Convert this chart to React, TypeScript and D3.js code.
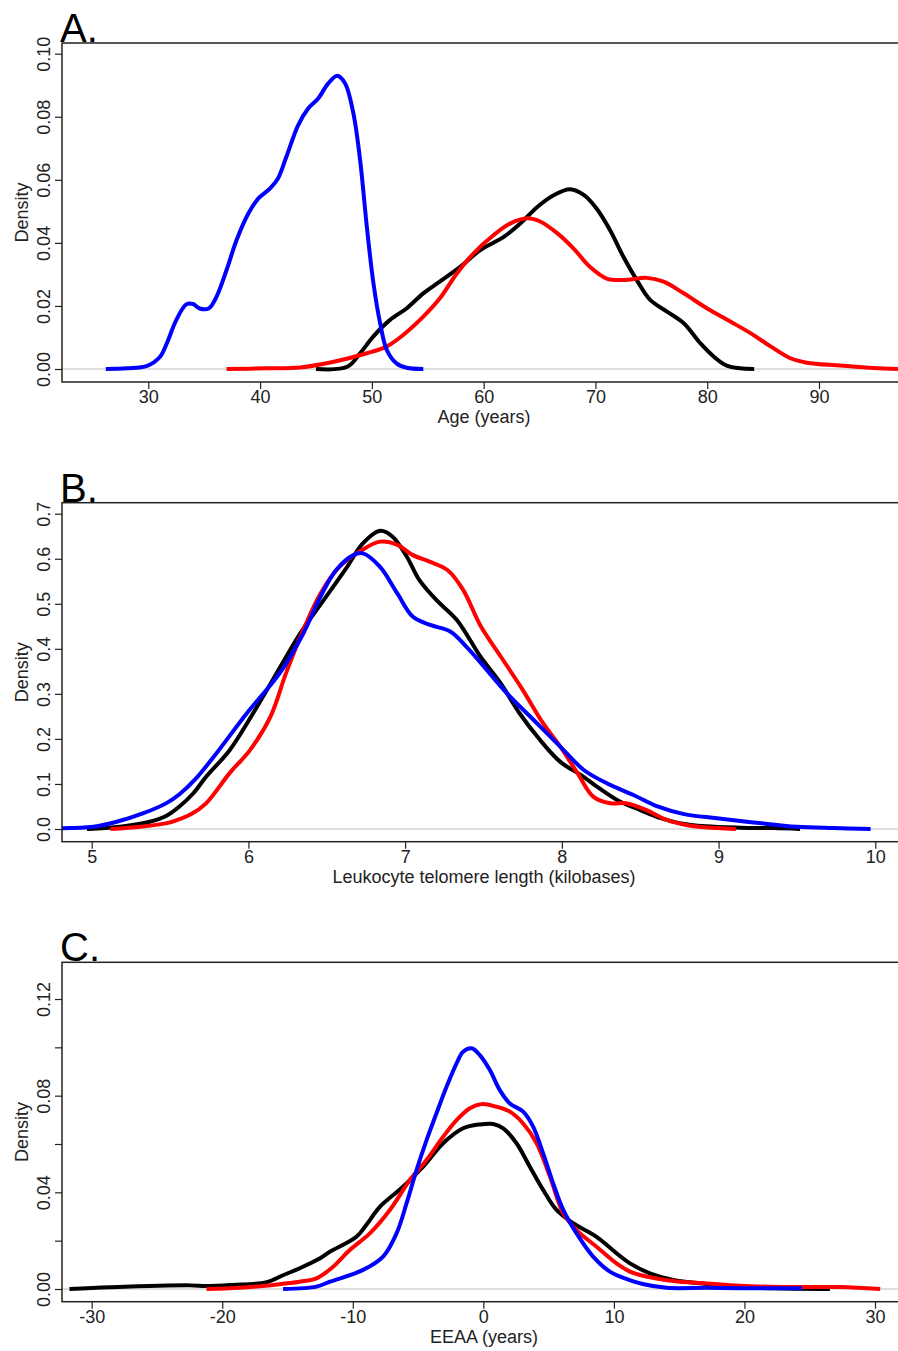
import { useEffect, useRef } from "react";
import * as d3 from "d3";

type Pt = [number, number];

// Panel A: age (years)
const ageTicks = [30, 40, 50, 60, 70, 80, 90];
const ageDensityTicks = [0, 0.02, 0.04, 0.06, 0.08, 0.1];
const ageBlack: Pt[] = [
  [45.0, 0], [47.8, 0.0007], [48.95, 0.005], [50.1, 0.0102], [51.6, 0.0155], [53.1, 0.0192],
  [54.6, 0.024], [56.1, 0.0278], [57.9, 0.0324], [59.7, 0.0377], [61.8, 0.0419], [63.3, 0.0462],
  [64.8, 0.0514], [66.3, 0.0552], [67.75, 0.057], [68.95, 0.0552], [70.1, 0.0509], [71.3, 0.0441],
  [72.5, 0.0356], [73.7, 0.0282], [74.9, 0.0219], [76.4, 0.0182], [77.9, 0.0145], [79.4, 0.0081],
  [80.6, 0.0039], [81.8, 0.001], [84.2, 0],
];
const ageRed: Pt[] = [
  [37.0, 0], [40.6, 0.0002], [43.6, 0.0005], [46.6, 0.0023], [49.55, 0.005], [51.3, 0.0071],
  [52.8, 0.0108], [54.6, 0.0166], [56.1, 0.0225], [57.6, 0.0303], [59.1, 0.0367], [60.9, 0.0425],
  [62.4, 0.0462], [63.9, 0.0478], [65.1, 0.0467], [66.6, 0.043], [68.05, 0.0382], [69.5, 0.0324],
  [71.0, 0.0287], [72.5, 0.0282], [74.6, 0.0289], [76.1, 0.0277], [77.9, 0.024], [80.0, 0.0192],
  [82.1, 0.015], [83.9, 0.0113], [85.7, 0.0071], [87.45, 0.0034], [88.9, 0.002], [91.9, 0.0011],
  [94.9, 0.0003], [97.1, 0],
];
const ageBlue: Pt[] = [
  [26.2, 0], [28.1, 0.0002], [29.9, 0.001], [31.05, 0.0039], [31.65, 0.0081], [32.5, 0.0155],
  [33.4, 0.0205], [34.0, 0.0206], [34.6, 0.0192], [35.4, 0.0192], [36.1, 0.0229], [37.0, 0.0314],
  [37.9, 0.0409], [38.95, 0.0493], [39.85, 0.0541], [40.9, 0.0573], [41.6, 0.0604], [42.4, 0.0678],
  [43.4, 0.0773], [44.3, 0.0826], [45.2, 0.0858], [46.1, 0.0906], [46.9, 0.093], [47.6, 0.0906],
  [48.35, 0.081], [48.95, 0.0662], [49.55, 0.0451], [50.14, 0.0272], [50.74, 0.0145], [51.34, 0.006],
  [52.2, 0.0018], [53.1, 0.0004], [54.6, 0],
];

// Panel B: leukocyte telomere length (kilobases)
const ltlTicks = [5, 6, 7, 8, 9, 10];
const ltlDensityTicks = [0, 0.1, 0.2, 0.3, 0.4, 0.5, 0.6, 0.7];
const ltlBlack: Pt[] = [
  [4.97, 0], [5.18, 0.005], [5.37, 0.016], [5.48, 0.03], [5.56, 0.05], [5.65, 0.08],
  [5.73, 0.116], [5.88, 0.175], [6.03, 0.257], [6.18, 0.346], [6.33, 0.434], [6.48, 0.508],
  [6.63, 0.582], [6.73, 0.634], [6.84, 0.662], [6.92, 0.649], [7.01, 0.605], [7.09, 0.553],
  [7.2, 0.508], [7.33, 0.464], [7.48, 0.383], [7.61, 0.323], [7.73, 0.257], [7.86, 0.198],
  [7.99, 0.149], [8.12, 0.12], [8.24, 0.09], [8.37, 0.061], [8.5, 0.042], [8.63, 0.024],
  [8.75, 0.013], [8.92, 0.006], [9.14, 0.003], [9.35, 0.002], [9.52, 0],
];
const ltlRed: Pt[] = [
  [5.12, 0], [5.31, 0.005], [5.48, 0.013], [5.56, 0.022], [5.63, 0.032], [5.73, 0.057],
  [5.88, 0.124], [6.01, 0.175], [6.14, 0.249], [6.24, 0.346], [6.35, 0.442], [6.46, 0.523],
  [6.58, 0.582], [6.71, 0.616], [6.84, 0.638], [6.95, 0.631], [7.05, 0.608], [7.16, 0.593],
  [7.27, 0.575], [7.37, 0.531], [7.48, 0.452], [7.61, 0.383], [7.75, 0.309], [7.88, 0.235],
  [7.99, 0.183], [8.1, 0.124], [8.2, 0.072], [8.31, 0.057], [8.41, 0.057], [8.54, 0.042],
  [8.67, 0.02], [8.82, 0.007], [8.99, 0.002], [9.11, 0],
];
const ltlBlue: Pt[] = [
  [4.81, 0.0015], [5.01, 0.005], [5.16, 0.016], [5.33, 0.035], [5.48, 0.058], [5.56, 0.077],
  [5.66, 0.11], [5.78, 0.161], [5.99, 0.257], [6.2, 0.346], [6.35, 0.434], [6.46, 0.516],
  [6.56, 0.575], [6.67, 0.608], [6.73, 0.612], [6.84, 0.582], [6.95, 0.523], [7.05, 0.471],
  [7.16, 0.453], [7.29, 0.438], [7.39, 0.405], [7.48, 0.37], [7.65, 0.301], [7.82, 0.242],
  [7.99, 0.183], [8.14, 0.131], [8.29, 0.101], [8.46, 0.075], [8.61, 0.05], [8.78, 0.033],
  [8.99, 0.024], [9.24, 0.014], [9.5, 0.005], [9.73, 0.002], [9.97, 0],
];

// Panel C: EEAA (years)
const eeaaTicks = [-30, -20, -10, 0, 10, 20, 30];
const eeaaDensityTicks = [0, 0.02, 0.04, 0.06, 0.08, 0.1, 0.12];
const eeaaDensityLabels = [0, 0.04, 0.08, 0.12];
const eeaaBlack: Pt[] = [
  [-31.7, 0], [-28.6, 0.0007], [-22.5, 0.0015], [-21.2, 0.0012], [-19.2, 0.0017], [-16.6, 0.0028],
  [-15.3, 0.0058], [-14.06, 0.0086], [-12.5, 0.0127], [-11.76, 0.0154], [-9.72, 0.0216], [-8.9, 0.027],
  [-7.93, 0.034], [-6.15, 0.0423], [-4.61, 0.0506], [-3.08, 0.0603], [-1.55, 0.0665], [-0.27, 0.0681],
  [0.75, 0.0683], [1.52, 0.0665], [2.54, 0.0603], [3.56, 0.0506], [4.58, 0.041], [5.61, 0.0327],
  [6.88, 0.0272], [8.67, 0.0216], [10.2, 0.0148], [11.23, 0.0106], [12.76, 0.0065], [14.55, 0.0037],
  [17.1, 0.0021], [19.66, 0.0008], [22.2, 0.0003], [26.55, 0],
];
const eeaaRed: Pt[] = [
  [-21.2, 0], [-18.66, 0.0005], [-16.1, 0.0017], [-14.06, 0.003], [-12.78, 0.0044], [-11.6, 0.0088],
  [-10.23, 0.0161], [-8.7, 0.023], [-7.16, 0.0327], [-5.63, 0.0451], [-4.35, 0.0534], [-3.08, 0.063],
  [-2.05, 0.0699], [-1.03, 0.0748], [-0.14, 0.0765], [1.01, 0.0754], [2.03, 0.0734], [3.05, 0.0685],
  [4.08, 0.0603], [5.1, 0.0465], [6.12, 0.0313], [7.14, 0.0244], [8.67, 0.0175], [10.2, 0.0106],
  [11.23, 0.0072], [12.0, 0.0058], [14.55, 0.0033], [17.1, 0.0023], [19.66, 0.0013], [23.5, 0.0008],
  [27.3, 0.0008], [30.4, 0],
];
const eeaaBlue: Pt[] = [
  [-15.34, 0], [-12.78, 0.001], [-11.76, 0.003], [-9.21, 0.0079], [-7.68, 0.0134], [-6.65, 0.023],
  [-5.88, 0.0355], [-5.12, 0.0492], [-4.35, 0.0616], [-3.59, 0.0727], [-2.82, 0.0837], [-2.05, 0.0934],
  [-1.55, 0.0982], [-0.9, 0.0996], [-0.27, 0.0968], [0.5, 0.0906], [1.26, 0.0823], [2.03, 0.0768],
  [3.05, 0.0734], [3.82, 0.0671], [4.58, 0.0561], [5.35, 0.0437], [6.12, 0.0327], [7.14, 0.023],
  [8.41, 0.0134], [9.69, 0.0072], [11.2, 0.0037], [12.2, 0.0021], [14.04, 0.0005], [17.1, 0.0005],
  [19.66, 0.0003], [24.4, 0.0003],
];

const seriesColors = ["#000000", "#ff0000", "#0000ff"];

const panels = [
  {
    label: "A.", top: 43, bottom: 382, xLabel: "Age (years)",
    xTicks: ageTicks, xPx: [148.3, 819], yTicks: ageDensityTicks, yLabels: ageDensityTicks,
    yPx: [369, 53.7], yFmt: ".2f", series: [ageBlack, ageRed, ageBlue],
  },
  {
    label: "B.", top: 502.7, bottom: 841.7, xLabel: "Leukocyte telomere length (kilobases)",
    xTicks: ltlTicks, xPx: [91.7, 875.3], yTicks: ltlDensityTicks, yLabels: ltlDensityTicks,
    yPx: [829, 513.7], yFmt: ".1f", series: [ltlBlack, ltlRed, ltlBlue],
  },
  {
    label: "C.", top: 962.3, bottom: 1301.7, xLabel: "EEAA (years)",
    xTicks: eeaaTicks, xPx: [91.7, 875], yTicks: eeaaDensityTicks, yLabels: eeaaDensityLabels,
    yPx: [1289, 999], yFmt: ".2f", series: [eeaaBlack, eeaaRed, eeaaBlue],
  },
];

const W = 898;
const H = 1351;
const left = 62;
const right = 906;
const font = "Liberation Sans, Arial, sans-serif";
const ink = "#222";

export default function App() {
  const ref = useRef<SVGSVGElement>(null);

  useEffect(() => {
    const svg = d3.select(ref.current);
    svg.selectAll("*").remove();

    panels.forEach((p) => {
      const x = d3.scaleLinear().domain([p.xTicks[0], p.xTicks[p.xTicks.length - 1]]).range(p.xPx);
      const y = d3.scaleLinear().domain([p.yTicks[0], p.yTicks[p.yTicks.length - 1]]).range(p.yPx);
      const g = svg.append("g");

      // zero reference line
      g.append("line")
        .attr("x1", left).attr("x2", right)
        .attr("y1", y(0)).attr("y2", y(0))
        .attr("stroke", "#bebebe").attr("stroke-width", 1.2);

      const line = d3.line<Pt>()
        .x((d) => x(d[0]))
        .y((d) => Math.min(y(0), y(d[1])))
        .curve(d3.curveCatmullRom.alpha(0.5));

      p.series.forEach((s, i) => {
        g.append("path")
          .datum(s)
          .attr("fill", "none")
          .attr("stroke", seriesColors[i])
          .attr("stroke-width", 4)
          .attr("stroke-linejoin", "round")
          .attr("d", line);
      });

      // box
      g.append("rect")
        .attr("x", left).attr("y", p.top)
        .attr("width", right - left).attr("height", p.bottom - p.top)
        .attr("fill", "none").attr("stroke", ink).attr("stroke-width", 1.5);

      // x axis (plain hyphen for negatives, as in R)
      const xAxis = d3.axisBottom(x).tickValues(p.xTicks).tickSize(7).tickSizeOuter(0)
        .tickFormat((d) => String(d));
      const xg = g.append("g").attr("transform", `translate(0,${p.bottom})`).call(xAxis);
      xg.select(".domain").remove();
      xg.selectAll("line").attr("stroke", ink).attr("stroke-width", 1.2);
      xg.selectAll("text")
        .attr("y", 21).attr("dy", 0)
        .attr("font-family", font).attr("font-size", 18).attr("fill", ink);

      // y axis, labels rotated
      const yAxis = d3.axisLeft(y).tickValues(p.yTicks).tickSize(7).tickSizeOuter(0)
        .tickFormat((d) => (p.yLabels.some((v) => Math.abs(v - (d as number)) < 1e-9)
          ? d3.format(p.yFmt)(d as number) : ""));
      const yg = g.append("g").attr("transform", `translate(${left},0)`).call(yAxis);
      yg.select(".domain").remove();
      yg.selectAll("line").attr("stroke", ink).attr("stroke-width", 1.2);
      yg.selectAll("text")
        .attr("x", 0).attr("y", -12).attr("dy", 0)
        .attr("transform", "rotate(-90)")
        .attr("text-anchor", "middle")
        .attr("font-family", font).attr("font-size", 18).attr("fill", ink);

      // axis titles
      g.append("text")
        .attr("x", 484).attr("y", p.bottom + 41)
        .attr("text-anchor", "middle")
        .attr("font-family", font).attr("font-size", 18).attr("fill", ink)
        .text(p.xLabel);
      const midY = (p.top + p.bottom) / 2;
      g.append("text")
        .attr("transform", `translate(28,${midY}) rotate(-90)`)
        .attr("text-anchor", "middle")
        .attr("font-family", font).attr("font-size", 18).attr("fill", ink)
        .text("Density");

      // panel label
      g.append("text")
        .attr("x", 60).attr("y", p.top - 1)
        .attr("font-family", font).attr("font-size", 40).attr("fill", "#000")
        .text(p.label);
    });
  }, []);

  return (
    <svg
      ref={ref}
      width={W}
      height={H}
      style={{ position: "absolute", left: 0, top: 0, background: "#fff" }}
    />
  );
}
